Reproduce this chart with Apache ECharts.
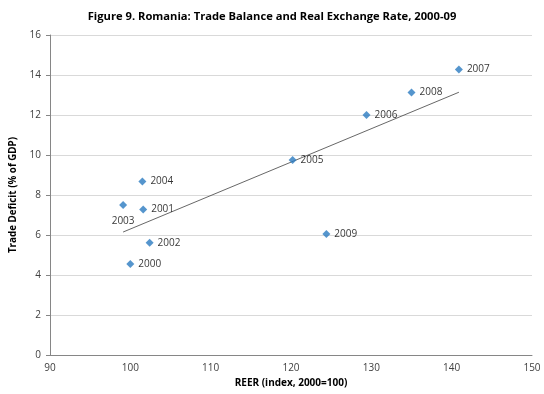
<!DOCTYPE html>
<html>
<head>
<meta charset="utf-8">
<script src="https://cdn.jsdelivr.net/npm/echarts@6/dist/echarts.min.js"></script>
<style>
  html, body { margin: 0; padding: 0; background: #fff; }
  #chart { width: 544px; height: 394px; }
</style>
</head>
<body>
<div id="chart"></div>
<script>
// Romania: real effective exchange rate vs. trade deficit, 2000-09
const years = ['2000', '2001', '2002', '2003', '2004', '2005', '2006', '2007', '2008', '2009'];
const reer = [100.0, 101.6, 102.4, 99.1, 101.5, 120.2, 129.4, 140.9, 135.0, 124.4];
const tradeDeficit = [4.55, 7.28, 5.61, 7.5, 8.68, 9.75, 12.0, 14.27, 13.13, 6.05];
const xTicks = [90, 100, 110, 120, 130, 140, 150];
const yTicks = [0, 2, 4, 6, 8, 10, 12, 14, 16];

// Ordinary least-squares trend line over the observed range
const n = reer.length;
const mx = reer.reduce((a, b) => a + b, 0) / n;
const my = tradeDeficit.reduce((a, b) => a + b, 0) / n;
let sxy = 0, sxx = 0;
for (let i = 0; i < n; i++) {
  sxy += (reer[i] - mx) * (tradeDeficit[i] - my);
  sxx += (reer[i] - mx) * (reer[i] - mx);
}
const slope = sxy / sxx;
const intercept = my - slope * mx;
const xMin = Math.min(...reer), xMax = Math.max(...reer);
const trend = [[xMin, intercept + slope * xMin], [xMax, intercept + slope * xMax]];

const font = '"Open Sans", "Noto Sans", sans-serif';
const points = years.map((y, i) => ({
  value: [reer[i], tradeDeficit[i]],
  name: y,
  label: y === '2003' ? { position: 'bottom', distance: 7 } : undefined
}));

const chart = echarts.init(document.getElementById('chart'), null, { renderer: 'canvas' });
chart.setOption({
  animation: false,
  backgroundColor: '#ffffff',
  title: {
    text: 'Figure 9. Romania: Trade Balance and Real Exchange Rate, 2000-09',
    left: 'center',
    top: 6,
    textStyle: { fontFamily: font, fontSize: 11.2, fontWeight: 'bold', color: '#000' }
  },
  grid: { left: 50, right: 12, top: 35, bottom: 39 },
  xAxis: {
    type: 'value',
    min: xTicks[0],
    max: xTicks[xTicks.length - 1],
    interval: 10,
    name: 'REER (index, 2000=100)',
    nameLocation: 'middle',
    nameGap: 22,
    nameTextStyle: { fontFamily: font, fontSize: 10, fontWeight: 'bold', color: '#000' },
    axisLine: { show: true, lineStyle: { color: '#868686', width: 1 } },
    axisTick: { show: false },
    splitLine: { show: false },
    axisLabel: { fontFamily: font, fontSize: 10, color: '#404040', margin: 8 }
  },
  yAxis: {
    type: 'value',
    min: yTicks[0],
    max: yTicks[yTicks.length - 1],
    interval: 2,
    name: 'Trade Deficit (% of GDP)',
    nameLocation: 'middle',
    nameGap: 28,
    nameTextStyle: { fontFamily: font, fontSize: 9.8, fontWeight: 'bold', color: '#000' },
    axisLine: { show: true, lineStyle: { color: '#868686', width: 1 } },
    axisTick: { show: true, length: 4, lineStyle: { color: '#868686' } },
    splitLine: { show: true, lineStyle: { color: '#d9d9d9', width: 1 } },
    axisLabel: { fontFamily: font, fontSize: 10, color: '#404040', margin: 9 }
  },
  series: [
    {
      type: 'line',
      data: trend,
      symbol: 'none',
      lineStyle: { color: '#404040', width: 0.8 },
      silent: true,
      z: 1
    },
    {
      type: 'scatter',
      data: points,
      symbol: 'diamond',
      symbolSize: 8,
      itemStyle: { color: '#2a7bc0' },
      label: {
        show: true,
        position: 'right',
        distance: 4,
        formatter: p => p.name,
        fontFamily: font,
        fontSize: 10,
        color: '#000'
      },
      z: 2
    }
  ]
});
</script>
</body>
</html>
